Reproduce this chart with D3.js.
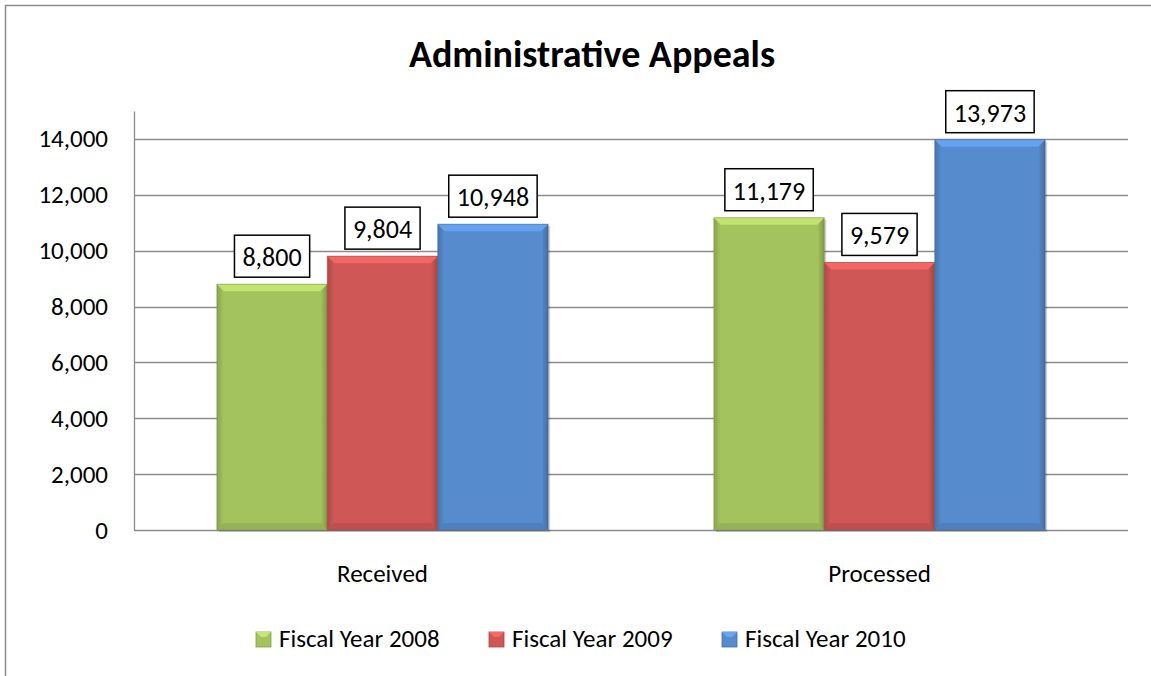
<!DOCTYPE html>
<html>
<head>
<meta charset="utf-8">
<script src="https://cdn.jsdelivr.net/npm/d3@7"></script>
<style>
  body { margin: 0; background: #fff; }
  text { font-family: Carlito, Calibri, Lato, "Open Sans", sans-serif; }
</style>
</head>
<body>
<div id="chart"></div>
<script>
var categories = ["Received", "Processed"];
var seriesNames = ["Fiscal Year 2008", "Fiscal Year 2009", "Fiscal Year 2010"];
var fy2008 = [8800, 11179];
var fy2009 = [9804, 9579];
var fy2010 = [10948, 13973];
var yTicks = [0, 2000, 4000, 6000, 8000, 10000, 12000, 14000];

var colors = ["#a3c35e", "#cf5755", "#568bcd"];
var seriesValues = [fy2008, fy2009, fy2010];

var W = 1151, H = 676;
var margin = { left: 134, right: 23, top: 111, bottom: 146 };
var width = W - margin.left - margin.right;
var height = H - margin.top - margin.bottom;
var FONT = "Carlito, Calibri, Lato, sans-serif";

var svg = d3.select("#chart").append("svg")
  .attr("width", W)
  .attr("height", H);

// outer frame
svg.append("path")
  .attr("d", "M5.5," + H + "V5.5H" + W)
  .attr("fill", "none")
  .attr("stroke", "#8c8c8c")
  .attr("stroke-width", 1.5);

svg.append("text")
  .attr("x", 592)
  .attr("y", 67)
  .attr("text-anchor", "middle")
  .attr("font-size", 38)
  .attr("font-weight", "bold")
  .text("Administrative Appeals");

var plot = svg.append("g")
  .attr("transform", "translate(" + margin.left + "," + margin.top + ")");

var x0 = d3.scaleBand().domain(categories).range([0, width]);
// gap width is 150% of one bar
var barW = x0.bandwidth() / (3 + 1.5);
var x1 = d3.scaleBand().domain(seriesNames).range([0, barW * 3]);
var y = d3.scaleLinear().domain([0, 15000]).range([height, 0]);

// gridlines
plot.append("g")
  .selectAll("line")
  .data(yTicks)
  .enter().append("line")
    .attr("x1", 0)
    .attr("x2", width)
    .attr("y1", d => Math.round(y(d)) + 0.5)
    .attr("y2", d => Math.round(y(d)) + 0.5)
    .attr("stroke", "#8c8c8c")
    .attr("stroke-width", 1.3);

var yAxis = d3.axisLeft(y)
  .tickValues(yTicks)
  .tickSize(0)
  .tickPadding(26)
  .tickFormat(d3.format(","));

var gy = plot.append("g").call(yAxis);
gy.select(".domain").attr("stroke", "#8c8c8c").attr("stroke-width", 1.3);
gy.selectAll("text")
  .attr("font-size", 25)
  .attr("fill", "#000")
  .style("font-family", FONT);

var xAxis = d3.axisBottom(x0).tickSize(0).tickPadding(34);
var gx = plot.append("g")
  .attr("transform", "translate(0," + height + ")")
  .call(xAxis);
gx.select(".domain").remove();
gx.selectAll("text")
  .attr("font-size", 25)
  .attr("fill", "#000")
  .style("font-family", FONT);

// gradients for bevelled bars
var defs = svg.append("defs");
colors.forEach(function(c, i) {
  var g = defs.append("linearGradient").attr("id", "grad" + i)
    .attr("x1", 0).attr("x2", 1).attr("y1", 0).attr("y2", 0);
  g.append("stop").attr("offset", "0%").attr("stop-color", d3.color(c).darker(0.5));
  g.append("stop").attr("offset", "6%").attr("stop-color", c);
  g.append("stop").attr("offset", "94%").attr("stop-color", c);
  g.append("stop").attr("offset", "100%").attr("stop-color", d3.color(c).darker(0.7));
});

var bevel = 7;
var bars = [];
categories.forEach(function(cat, ci) {
  seriesNames.forEach(function(s, si) {
    bars.push({ cat: cat, series: s, si: si, value: seriesValues[si][ci] });
  });
});

var groupOffset = (x0.bandwidth() - barW * 3) / 2;

var barG = plot.selectAll(".bar")
  .data(bars)
  .enter().append("g")
    .attr("class", "bar")
    .attr("transform", d => "translate(" + (x0(d.cat) + groupOffset + x1(d.series)) + ",0)");

// shadow
barG.append("rect")
  .attr("x", 2)
  .attr("y", d => y(d.value) + 2)
  .attr("width", x1.bandwidth())
  .attr("height", d => height - y(d.value))
  .attr("fill", "#000")
  .attr("opacity", 0.18);

barG.append("rect")
  .attr("x", 0)
  .attr("y", d => y(d.value))
  .attr("width", x1.bandwidth())
  .attr("height", d => height - y(d.value))
  .attr("fill", d => "url(#grad" + d.si + ")");

// top bevel (lighter)
barG.append("path")
  .attr("d", function(d) {
    var t = y(d.value), w = x1.bandwidth();
    return "M0," + t + "H" + w + "L" + (w - bevel) + "," + (t + bevel) + "H" + bevel + "Z";
  })
  .attr("fill", d => d3.color(colors[d.si]).brighter(0.45));

// bottom bevel (darker)
barG.append("path")
  .attr("d", function(d) {
    var w = x1.bandwidth();
    return "M0," + height + "H" + w + "L" + (w - bevel) + "," + (height - bevel) + "H" + bevel + "Z";
  })
  .attr("fill", d => d3.color(colors[d.si]).darker(0.25));

barG.append("rect")
  .attr("x", 0)
  .attr("y", d => y(d.value))
  .attr("width", x1.bandwidth())
  .attr("height", d => height - y(d.value))
  .attr("fill", "none")
  .attr("stroke", d => d3.color(colors[d.si]).darker(0.8))
  .attr("stroke-opacity", 0.5)
  .attr("stroke-width", 1);

// value labels in boxes
var fmt = d3.format(",");
barG.each(function(d) {
  var g = d3.select(this);
  var cx = x1.bandwidth() / 2;
  var t = g.append("text")
    .attr("x", cx)
    .attr("y", y(d.value) - 18)
    .attr("text-anchor", "middle")
    .attr("font-size", 26)
    .attr("fill", "#000")
    .text(fmt(d.value));
  var bb = t.node().getBBox();
  g.insert("rect", "text")
    .attr("x", bb.x - 8)
    .attr("y", y(d.value) - 49)
    .attr("width", bb.width + 16)
    .attr("height", 42)
    .attr("fill", "#fff")
    .attr("stroke", "#000")
    .attr("stroke-width", 1.5);
});

// legend
var legendX = [256, 489, 722];
var legend = svg.append("g");
seriesNames.forEach(function(s, i) {
  var lg = legend.append("g").attr("transform", "translate(" + legendX[i] + ",632)");
  lg.append("rect")
    .attr("width", 15).attr("height", 15)
    .attr("fill", colors[i])
    .attr("stroke", d3.color(colors[i]).darker(0.6))
    .attr("stroke-width", 0.8);
  lg.append("path")
    .attr("d", "M0,0H15L10,5H5Z")
    .attr("fill", d3.color(colors[i]).brighter(0.5));
  lg.append("text")
    .attr("x", 23)
    .attr("y", 15)
    .attr("font-size", 25)
    .attr("fill", "#000")
    .text(s);
});
</script>
</body>
</html>
